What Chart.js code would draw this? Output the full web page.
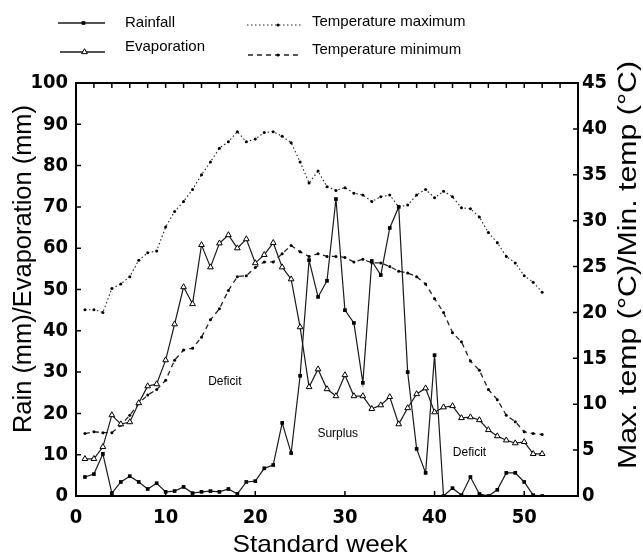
<!DOCTYPE html>
<html><head><meta charset="utf-8">
<script src="https://cdn.jsdelivr.net/npm/chart.js@4.4.0/dist/chart.umd.min.js"></script>
<style>html,body{margin:0;padding:0;background:#fff;}canvas{display:block;}</style>
</head><body>
<canvas id="c" width="643" height="558"></canvas>
<script>
const weeks = [1,2,3,4,5,6,7,8,9,10,11,12,13,14,15,16,17,18,19,20,21,22,23,24,25,26,27,28,29,30,31,32,33,34,35,36,37,38,39,40,41,42,43,44,45,46,47,48,49,50,51,52];
const rainfall = [4.6,5.3,10.2,0.7,3.4,4.8,3.4,1.7,3.1,1.0,1.2,2.2,0.7,1.0,1.2,1.0,1.7,0.5,3.4,3.6,6.7,7.5,17.7,10.4,29.1,57.1,48.2,52.1,71.9,45.0,41.9,27.4,56.9,53.5,64.9,70.0,30.0,11.4,5.6,34.1,0.0,1.9,0.2,4.6,0.5,0.0,1.5,5.6,5.6,3.4,0.2,0.0];
const evaporation = [9.0,9.0,11.9,19.6,17.4,17.9,22.5,26.6,27.1,32.9,41.6,50.6,46.5,60.8,55.4,61.2,63.2,60.0,62.2,56.4,58.4,61.3,55.4,52.5,40.9,26.4,30.7,25.9,24.2,29.3,24.2,24.2,21.1,22.0,24.0,17.4,21.3,24.7,26.1,20.3,21.5,21.8,18.9,19.1,18.4,16.0,14.5,13.5,12.8,13.1,10.2,10.2];
const tempMax = [20.3,20.3,20.0,22.6,23.1,23.9,25.7,26.5,26.7,29.3,31.0,32.1,33.4,35.0,36.4,37.9,38.6,39.7,38.6,38.9,39.6,39.7,39.2,38.5,36.4,34.1,35.4,33.7,33.3,33.6,33.0,32.8,32.1,32.6,32.8,31.5,31.7,32.8,33.4,32.5,33.2,32.6,31.4,31.3,30.4,28.7,27.6,26.1,25.4,24.0,23.3,22.2];
const tempMin = [6.8,7.0,6.9,6.9,7.7,8.8,10.1,11.0,11.6,12.6,14.8,15.9,16.1,17.3,19.2,20.4,22.4,23.9,24.0,24.9,25.5,25.5,26.4,27.3,26.6,26.1,26.4,26.1,26.1,26.0,25.5,25.8,25.4,25.4,25.0,24.5,24.3,23.9,23.1,21.5,20.0,17.8,16.8,14.7,13.7,11.6,10.5,8.8,8.1,7.0,6.8,6.7];
const xTickLabels = [0,10,20,30,40,50];
const leftTickLabels = [0,10,20,30,40,50,60,70,80,90,100];
const rightTickLabels = [0,5,10,15,20,25,30,35,40,45];
const annotations = [
  {text:'Deficit', week:16.6, mm:27.6},
  {text:'Surplus', week:29.2, mm:15.0},
  {text:'Deficit', week:43.9, mm:10.6}
];
const seriesNames = ['Rainfall','Evaporation','Temperature maximum','Temperature minimum'];

const toXY = arr => weeks.map((w,i)=>({x:w, y:arr[i]}));
const TICKFONT = "'Liberation Sans Narrow','DejaVu Sans Condensed',Arial,sans-serif";
const TEXTFONT = "'Liberation Sans',Arial,sans-serif";

function drawMarker(ctx, ds, x, y){
  const opts = {pointStyle: ds.pointStyle, radius: ds.pointRadius, rotation:0, borderWidth: ds.pointBorderWidth};
  ctx.save();
  ctx.fillStyle = ds.pointBackgroundColor;
  ctx.strokeStyle = ds.pointBorderColor;
  ctx.lineWidth = ds.pointBorderWidth;
  Chart.helpers.drawPoint(ctx, opts, x, y);
  ctx.restore();
}

function fitText(ctx, text, cx, cy, len, rot){
  ctx.save();
  ctx.translate(cx, cy);
  if (rot) ctx.rotate(rot);
  const w = ctx.measureText(text).width;
  ctx.scale(len / w, 1);
  ctx.fillText(text, 0, 0);
  ctx.restore();
}

const decor = {
  id:'decor',
  afterDraw(chart){
    const {ctx, chartArea:a, scales} = chart;
    const x = scales.x, y = scales.y, y1 = scales.y1;
    ctx.save();
    ctx.strokeStyle = '#000';
    ctx.lineWidth = 2;
    ctx.strokeRect(a.left, a.top, a.right-a.left, a.bottom-a.top);
    ctx.lineWidth = 1.5;
    const L = 5;
    ctx.beginPath();
    leftTickLabels.forEach(v=>{const p=y.getPixelForValue(v); ctx.moveTo(a.left,p); ctx.lineTo(a.left+L,p);});
    rightTickLabels.forEach(v=>{const p=y1.getPixelForValue(v); ctx.moveTo(a.right,p); ctx.lineTo(a.right-L,p);});
    xTickLabels.forEach(v=>{const p=x.getPixelForValue(v); ctx.moveTo(p,a.bottom); ctx.lineTo(p,a.bottom-L);});
    for(let v=x.min; v<=x.max; v+=2){const p=x.getPixelForValue(v); ctx.moveTo(p,a.top); ctx.lineTo(p,a.top+L);}
    ctx.stroke();

    ctx.fillStyle = '#000';
    ctx.textAlign = 'center';
    ctx.textBaseline = 'middle';
    ctx.font = '25px ' + TEXTFONT;
    fitText(ctx, 'Rain (mm)/Evaporation (mm)', 24, 269, 328, -Math.PI/2);
    ctx.font = '26px ' + TEXTFONT;
    fitText(ctx, 'Max. temp (\u00B0C)/Min. temp (\u00B0C)', 629, 265, 408, -Math.PI/2);
    ctx.font = '24px ' + TEXTFONT;
    fitText(ctx, 'Standard week', 320, 545, 175, 0);

    ctx.font = '12px ' + TEXTFONT;
    annotations.forEach(an=>{
      ctx.fillText(an.text, x.getPixelForValue(an.week), y.getPixelForValue(an.mm));
    });

    const legendPos = [
      {x1:58,x2:105,ly:23,tx:125,ty:23},
      {x1:60,x2:105,ly:52,tx:125,ty:47},
      {x1:247,x2:303,ly:25,tx:312,ty:22},
      {x1:248,x2:302,ly:55,tx:312,ty:50}
    ];
    ctx.font = '15px ' + TEXTFONT;
    ctx.textAlign = 'left';
    chart.data.datasets.forEach((ds,i)=>{
      const p = legendPos[i];
      ctx.save();
      ctx.strokeStyle = ds.borderColor;
      ctx.lineWidth = ds.borderWidth + (i<2?0.4:0);
      ctx.setLineDash(ds.borderDash || []);
      ctx.beginPath(); ctx.moveTo(p.x1,p.ly); ctx.lineTo(p.x2,p.ly); ctx.stroke();
      ctx.restore();
      drawMarker(ctx, ds, (p.x1+p.x2)/2 + (i<2?2:3), p.ly);
      ctx.fillStyle = '#000';
      ctx.fillText(seriesNames[i], p.tx, p.ty);
    });
    ctx.restore();
  }
};

new Chart(document.getElementById('c'), {
  type:'line',
  data:{datasets:[
    {label:seriesNames[0], data:toXY(rainfall), yAxisID:'y', borderColor:'#1a1a1a', borderWidth:1.2,
     pointStyle:'rect', pointRadius:2.6, pointBackgroundColor:'#000', pointBorderColor:'#000', pointBorderWidth:0, tension:0},
    {label:seriesNames[1], data:toXY(evaporation), yAxisID:'y', borderColor:'#1a1a1a', borderWidth:1.2,
     pointStyle:'triangle', pointRadius:3.3, pointBackgroundColor:'#fff', pointBorderColor:'#000', pointBorderWidth:1, tension:0},
    {label:seriesNames[2], data:toXY(tempMax), yAxisID:'y1', borderColor:'#222', borderWidth:1.1, borderDash:[1.5,2.5],
     pointStyle:'circle', pointRadius:1.5, pointBackgroundColor:'#000', pointBorderColor:'#000', pointBorderWidth:0, tension:0},
    {label:seriesNames[3], data:toXY(tempMin), yAxisID:'y1', borderColor:'#222', borderWidth:1.3, borderDash:[5,4],
     pointStyle:'circle', pointRadius:1.5, pointBackgroundColor:'#000', pointBorderColor:'#000', pointBorderWidth:0, tension:0}
  ]},
  options:{
    responsive:false, animation:false,
    layout:{padding:{top:83,left:0,right:0,bottom:0}},
    plugins:{legend:{display:false}, tooltip:{enabled:false}},
    elements:{line:{fill:false}},
    scales:{
      x:{type:'linear', position:'bottom', min:0, max:56,
         grid:{display:false, drawTicks:false}, border:{display:false},
         ticks:{stepSize:10, padding:10, color:'#000', font:{family:TICKFONT, size:20, weight:'bold'}},
         afterBuildTicks:s=>{s.ticks = xTickLabels.map(v=>({value:v}));},
         afterFit:s=>{s.height = 62;}},
      y:{type:'linear', position:'left', min:0, max:100,
         grid:{display:false, drawTicks:false}, border:{display:false},
         ticks:{stepSize:10, padding:8, color:'#000', font:{family:TICKFONT, size:20, weight:'bold'}},
         afterBuildTicks:s=>{s.ticks = leftTickLabels.map(v=>({value:v}));},
         afterFit:s=>{s.width = 76;}},
      y1:{type:'linear', position:'right', min:0, max:45,
         grid:{display:false, drawTicks:false}, border:{display:false},
         ticks:{stepSize:5, padding:4, color:'#000', font:{family:TICKFONT, size:20, weight:'bold'}},
         afterBuildTicks:s=>{s.ticks = rightTickLabels.map(v=>({value:v}));},
         afterFit:s=>{s.width = 65;}}
    }
  },
  plugins:[decor]
});
</script>
</body></html>
